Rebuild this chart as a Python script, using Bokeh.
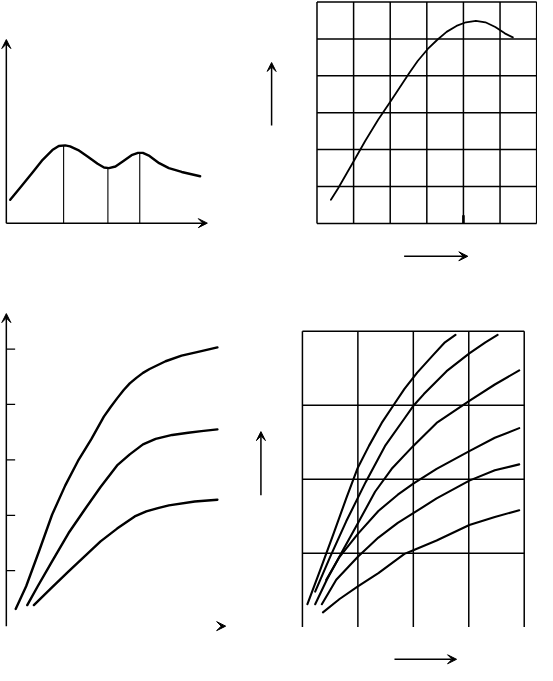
from bokeh.plotting import figure
from bokeh.layouts import column, row
from bokeh.models import Range1d, Arrow, VeeHead
from bokeh.embed import file_html
from bokeh.resources import INLINE

# ---------------- Panel 1 (top-left): two-peak curve ----------------
p1_x = [0.20, 0.70, 1.37, 1.87, 2.37, 2.70, 3.03, 3.28, 3.70, 4.20, 4.70, 5.03,
        5.28, 5.62, 6.03, 6.45, 6.78, 7.03, 7.37, 7.87, 8.37, 9.03, 9.98]
p1_y = [1.20, 1.80, 2.62, 3.24, 3.74, 3.95, 3.98, 3.93, 3.74, 3.40, 3.04, 2.85,
        2.82, 2.90, 3.18, 3.48, 3.60, 3.60, 3.44, 3.07, 2.82, 2.62, 2.40]
p1_drop_x = [2.95, 5.23, 6.87]
p1_drop_y = [3.98, 2.83, 3.60]
p1_axis_x_end = 10.35
p1_axis_y_end = 9.4

# ---------------- Panel 2 (top-right): curve on 6x6 grid ----------------
p2_grid = [0, 1, 2, 3, 4, 5, 6]
p2_x = [0.38, 0.57, 0.79, 1.01, 1.32, 1.67, 2.03, 2.53, 2.75, 3.02, 3.28, 3.54,
        3.81, 4.07, 4.34, 4.60, 4.87, 5.13, 5.35]
p2_y = [0.64, 0.94, 1.32, 1.70, 2.24, 2.81, 3.34, 4.09, 4.40, 4.72, 4.97, 5.19,
        5.35, 5.45, 5.49, 5.45, 5.32, 5.15, 5.04]
p2_mark_x = 4.0
p2_mark_y = 0.22
p2_up_arrow = (-1.24, 2.65, 4.36)      # x, y_start, y_end
p2_right_arrow = (2.38, 4.12, -0.89)   # x_start, x_end, y

# ---------------- Panel 3 (bottom-left): three saturating curves ----------------
p3_ticks = [1, 2, 3, 4, 5]
p3_c1_x = [0.17, 0.36, 0.60, 0.83, 1.07, 1.30, 1.54, 1.77, 1.89, 2.01, 2.13, 2.24,
           2.36, 2.48, 2.60, 2.89, 3.18, 3.48, 3.83]
p3_c1_y = [0.31, 0.72, 1.37, 2.01, 2.54, 2.98, 3.37, 3.78, 3.95, 4.11, 4.26, 4.38,
           4.48, 4.57, 4.64, 4.78, 4.88, 4.95, 5.03]
p3_c2_x = [0.38, 0.57, 0.83, 1.13, 1.42, 1.71, 2.01, 2.24, 2.48, 2.71, 3.01, 3.30, 3.54, 3.83]
p3_c2_y = [0.38, 0.72, 1.17, 1.68, 2.10, 2.51, 2.90, 3.10, 3.28, 3.38, 3.45, 3.49, 3.52, 3.55]
p3_c3_x = [0.50, 0.81, 1.13, 1.42, 1.71, 2.01, 2.33, 2.54, 2.75, 2.95, 3.42, 3.83]
p3_c3_y = [0.38, 0.68, 0.99, 1.26, 1.53, 1.76, 1.98, 2.07, 2.13, 2.18, 2.25, 2.28]
p3_axis_y_end = 5.64
p3_x_head = (3.75, 3.98)
p3_side_arrow = (4.62, 2.36, 3.51)

# ---------------- Panel 4 (bottom-right): six curves on 4x4 grid ----------------
p4_grid_x = [0, 1, 2, 3, 4]
p4_grid_y = [1, 2, 3, 4]
p4_c1_x = [0.09, 0.32, 0.56, 0.79, 0.99, 1.20, 1.43, 1.66, 1.84, 2.07, 2.36, 2.57, 2.76]
p4_c1_y = [0.31, 0.77, 1.26, 1.74, 2.14, 2.45, 2.76, 3.02, 3.22, 3.44, 3.68, 3.85, 3.95]
p4_c2_x = [0.23, 0.50, 0.79, 1.14, 1.49, 1.84, 2.01, 2.19, 2.60, 3.01, 3.30, 3.52]
p4_c2_y = [0.48, 0.95, 1.43, 1.96, 2.45, 2.82, 3.00, 3.15, 3.46, 3.70, 3.85, 3.95]
p4_c3_x = [0.23, 0.44, 0.73, 1.02, 1.31, 1.61, 2.00, 2.42, 3.01, 3.47, 3.91]
p4_c3_y = [0.31, 0.64, 1.04, 1.43, 1.83, 2.14, 2.45, 2.76, 3.06, 3.28, 3.47]
p4_c4_x = [0.43, 0.67, 1.00, 1.37, 1.72, 2.00, 2.42, 3.01, 3.47, 3.91]
p4_c4_y = [0.64, 0.95, 1.26, 1.57, 1.79, 1.94, 2.14, 2.38, 2.56, 2.69]
p4_c5_x = [0.35, 0.61, 1.00, 1.37, 1.72, 2.00, 2.42, 3.01, 3.47, 3.91]
p4_c5_y = [0.31, 0.64, 0.95, 1.21, 1.41, 1.54, 1.74, 1.98, 2.12, 2.20]
p4_c6_x = [0.37, 0.67, 1.00, 1.37, 1.84, 2.00, 2.42, 3.01, 3.47, 3.91]
p4_c6_y = [0.20, 0.38, 0.55, 0.73, 0.99, 1.04, 1.17, 1.38, 1.49, 1.58]
p4_right_arrow = (1.66, 2.78, -0.435)

INK = "black"

# ---- layout geometry (reference page 553x681 scaled into 537x665)
SX = 537 / 553
SY = 665 / 681
SPLIT_X, SPLIT_Y = 274, 285          # split between panels (reference px)
W1 = round(SPLIT_X * SX); W2 = 537 - W1
H1 = round(SPLIT_Y * SY); H2 = 665 - H1


def mkfig(left, top, w, h, origin, scale):
    """Panel box (reference px) + where data (0,0) sits and px per unit."""
    ox, oy = origin
    kx, ky = scale
    wref, href = w / SX, h / SY
    xr = ((left - ox) / kx, (left + wref - ox) / kx)
    yr = ((oy - (top + href)) / ky, (oy - top) / ky)
    p = figure(width=w, height=h, x_range=Range1d(*xr), y_range=Range1d(*yr),
               output_backend="svg", toolbar_location=None,
               x_axis_type=None, y_axis_type=None, min_border=0,
               outline_line_color=None, background_fill_color="white",
               border_fill_color="white")
    p.grid.visible = False
    return p


def arrow(p, xs, ys, xe, ye, size=9, shaft=True):
    p.add_layout(Arrow(end=VeeHead(size=size, fill_color=INK, line_color=INK, line_width=1),
                       x_start=xs, y_start=ys, x_end=xe, y_end=ye,
                       line_color=INK, line_width=1.5, line_alpha=1.0 if shaft else 0.0))


# ---- figure 1
f1 = mkfig(0, 0, W1, H1, (6, 228), (20, 20))
arrow(f1, 0, 0, p1_axis_x_end, 0)
arrow(f1, 0, 0, 0, p1_axis_y_end)
f1.segment(x0=p1_drop_x, y0=[0] * len(p1_drop_x), x1=p1_drop_x, y1=p1_drop_y,
           line_color=INK, line_width=1.1)
f1.line(p1_x, p1_y, line_color=INK, line_width=2.4, line_join="round", line_cap="round")

# ---- figure 2
f2 = mkfig(SPLIT_X, 0, W2, H1, (326, 228.3), (37.7, 37.8))
n2 = len(p2_grid)
f2.segment(x0=p2_grid, y0=[p2_grid[0]] * n2, x1=p2_grid, y1=[p2_grid[-1]] * n2,
           line_color=INK, line_width=1.5)
f2.segment(x0=[p2_grid[0]] * n2, y0=p2_grid, x1=[p2_grid[-1]] * n2, y1=p2_grid,
           line_color=INK, line_width=1.5)
f2.segment(x0=[p2_mark_x], y0=[0], x1=[p2_mark_x], y1=[p2_mark_y], line_color=INK, line_width=2.6)
f2.line(p2_x, p2_y, line_color=INK, line_width=1.8, line_join="round", line_cap="round")
arrow(f2, p2_up_arrow[0], p2_up_arrow[1], p2_up_arrow[0], p2_up_arrow[2])
arrow(f2, p2_right_arrow[0], p2_right_arrow[2], p2_right_arrow[1], p2_right_arrow[2])

# ---- figure 3
f3 = mkfig(0, SPLIT_Y, W1, H2, (6, 641), (56.75, 56.75))
arrow(f3, 0, 0, 0, p3_axis_y_end)
f3.segment(x0=[0] * len(p3_ticks), y0=p3_ticks, x1=[0.16] * len(p3_ticks), y1=p3_ticks,
           line_color=INK, line_width=1.3)
arrow(f3, p3_x_head[0], 0, p3_x_head[1], 0, size=9, shaft=False)
arrow(f3, p3_side_arrow[0], p3_side_arrow[1], p3_side_arrow[0], p3_side_arrow[2])
for xs, ys in ((p3_c1_x, p3_c1_y), (p3_c2_x, p3_c2_y), (p3_c3_x, p3_c3_y)):
    f3.line(xs, ys, line_color=INK, line_width=2.4, line_join="round", line_cap="round")

# ---- figure 4
f4 = mkfig(SPLIT_X, SPLIT_Y, W2, H2, (311, 642), (57.1, 75.75))
f4.segment(x0=p4_grid_x, y0=[0] * len(p4_grid_x), x1=p4_grid_x, y1=[p4_grid_y[-1]] * len(p4_grid_x),
           line_color=INK, line_width=1.5)
f4.segment(x0=[p4_grid_x[0]] * len(p4_grid_y), y0=p4_grid_y,
           x1=[p4_grid_x[-1]] * len(p4_grid_y), y1=p4_grid_y,
           line_color=INK, line_width=1.5)
for xs, ys in ((p4_c1_x, p4_c1_y), (p4_c2_x, p4_c2_y), (p4_c3_x, p4_c3_y),
               (p4_c4_x, p4_c4_y), (p4_c5_x, p4_c5_y), (p4_c6_x, p4_c6_y)):
    f4.line(xs, ys, line_color=INK, line_width=2.1, line_join="round", line_cap="round")
arrow(f4, p4_right_arrow[0], p4_right_arrow[2], p4_right_arrow[1], p4_right_arrow[2])

p = column(row(f1, f2, spacing=0), row(f3, f4, spacing=0), spacing=0)

open("out.html", "w").write(file_html(p, INLINE))
